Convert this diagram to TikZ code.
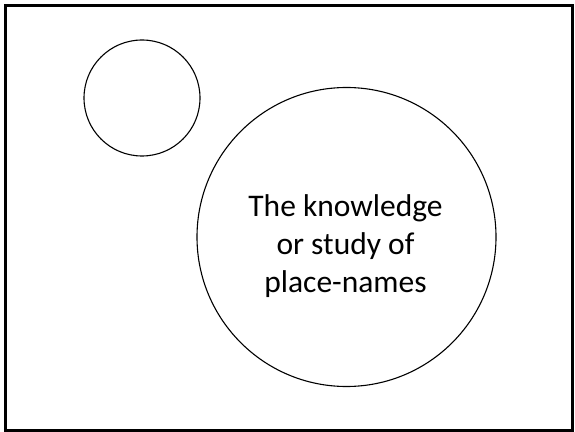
\documentclass[tikz,border=0pt]{standalone}
\usepackage{fontspec}
\setmainfont{Carlito}
\begin{document}
\begin{tikzpicture}[x=1pt,y=1pt,
  frame/.style={draw=black,line width=3pt},
  ring/.style={draw=black,line width=1.1pt,circle,inner sep=0pt},
  label/.style={align=center,font=\fontsize{31.5}{38}\selectfont}]
\useasboundingbox (0,0) rectangle (575,431);
\fill[white] (0,0) rectangle (575,431);
\draw[frame] (5.5,1) rectangle (572.5,425.5);
\node[ring,minimum size=116pt] (small) at (142,333) {};
\node[ring,minimum size=299pt] (big) at (346.5,194) {};
\node[label] (txt) at (345.5,185) {The knowledge\\or study of\\place-names};
\end{tikzpicture}
\end{document}
